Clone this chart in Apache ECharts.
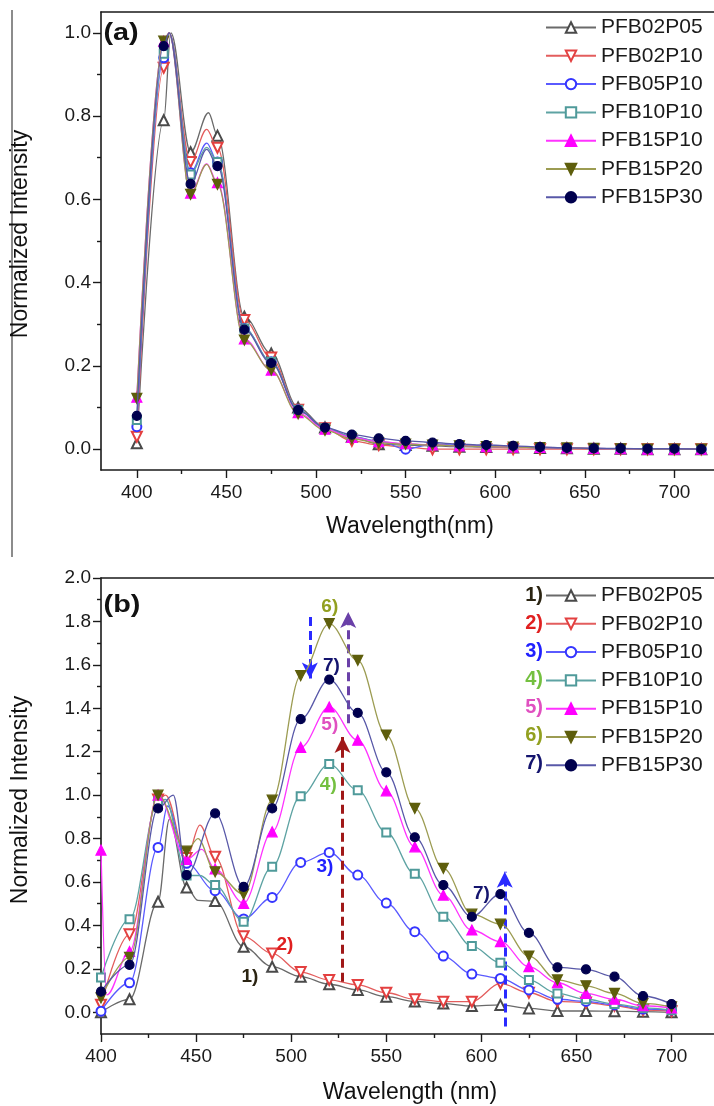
<!DOCTYPE html>
<html><head><meta charset="utf-8">
<script src="https://cdn.jsdelivr.net/npm/echarts@6/dist/echarts.min.js"></script>
<style>html,body{margin:0;padding:0;background:#fff}#c{width:714px;height:1106px}</style>
</head><body><div id="c"></div>
<script>
// ---------------- data ----------------
const seriesNames = ['PFB02P05','PFB02P10','PFB05P10','PFB10P10','PFB15P10','PFB15P20','PFB15P30'];
const legendPrefixB = ['1)','2)','3)','4)','5)','6)','7)'];

// Panel (a): marker wavelengths (nm)
const wlA = [400,415,430,445,460,475,490,505,520,535,550,565,580,595,610,625,640,655,670,685,700,715];
const a_PFB02P05 = [0.014,0.79,0.713,0.753,0.318,0.23,0.10,0.052,0.03,0.012,0.01,0.008,0.006,0.005,0.004,0.003,0.002,0.001,0.001,0,0,0];
const a_PFB02P10 = [0.03,0.916,0.69,0.724,0.31,0.22,0.095,0.05,0.02,0.01,0.005,0,0,0,0,0,0,0,0,0,0,0];
const a_PFB05P10 = [0.054,0.94,0.664,0.69,0.29,0.21,0.095,0.05,0.03,0.02,0.0,0.012,0.01,0.008,0.006,0.004,0.003,0.002,0.001,0,0,0];
const a_PFB10P10 = [0.07,0.95,0.66,0.69,0.29,0.21,0.095,0.05,0.03,0.018,0.012,0.01,0.008,0.006,0.005,0.004,0.003,0.002,0.001,0,0,0];
const a_PFB15P10 = [0.125,0.98,0.615,0.64,0.265,0.19,0.088,0.048,0.028,0.018,0.013,0.01,0.008,0.006,0.005,0.004,0.003,0.002,0.001,0,0,0];
const a_PFB15P20 = [0.122,0.98,0.612,0.636,0.262,0.19,0.085,0.045,0.025,0.015,0.012,0.01,0.008,0.006,0.005,0.004,0.003,0.002,0.001,0,0,0];
const a_PFB15P30 = [0.08,0.968,0.637,0.68,0.287,0.207,0.094,0.052,0.035,0.026,0.02,0.016,0.012,0.01,0.008,0.005,0.003,0.002,0.002,0.001,0.001,0];
// Panel (a): read peak points between markers [nm, value]
const aPk_PFB02P05 = [[419,1.0],[440,0.808]];
const aPk_PFB02P10 = [[418,1.0],[439,0.768]];
const aPk_PFB05P10 = [[418,1.0],[439,0.735]];
const aPk_PFB10P10 = [[418,1.0],[439,0.725]];
const aPk_PFB15P10 = [[418,1.0],[439,0.685]];
const aPk_PFB15P20 = [[418,1.0],[439,0.684]];
const aPk_PFB15P30 = [[418,1.0],[439,0.72]];

// Panel (b): marker wavelengths (nm)
const wlB = [400,415,430,445,460,475,490,505,520,535,550,565,580,595,610,625,640,655,670,685,700];
const b_PFB02P05 = [0.0,0.06,0.509,0.575,0.512,0.302,0.21,0.164,0.129,0.103,0.072,0.05,0.04,0.029,0.034,0.018,0.006,0.006,0.005,0.003,0.0];
const b_PFB02P10 = [0.035,0.359,0.98,0.71,0.716,0.35,0.271,0.185,0.149,0.126,0.09,0.06,0.049,0.049,0.133,0.09,0.05,0.045,0.03,0.01,0.005];
const b_PFB05P10 = [0.005,0.136,0.759,0.686,0.56,0.43,0.529,0.69,0.736,0.632,0.503,0.371,0.259,0.176,0.156,0.103,0.06,0.05,0.034,0.015,0.01];
const b_PFB10P10 = [0.16,0.429,0.97,0.63,0.586,0.417,0.67,0.995,1.143,1.023,0.828,0.638,0.44,0.305,0.228,0.149,0.087,0.06,0.038,0.02,0.01];
const b_PFB15P10 = [0.747,0.28,1.0,0.704,0.66,0.502,0.831,1.22,1.406,1.253,1.02,0.762,0.54,0.379,0.325,0.21,0.136,0.087,0.06,0.03,0.02];
const b_PFB15P20 = [0.066,0.253,1.0,0.742,0.647,0.544,0.977,1.55,1.79,1.621,1.277,0.939,0.663,0.452,0.406,0.259,0.149,0.122,0.087,0.041,0.025];
const b_PFB15P30 = [0.095,0.218,0.939,0.632,0.916,0.578,0.939,1.35,1.532,1.379,1.105,0.806,0.586,0.44,0.544,0.366,0.207,0.198,0.164,0.075,0.038];
// Panel (b): read points between markers [nm, value]
const bPk_PFB02P05 = [[436,0.89],[451,0.515]];
const bPk_PFB02P10 = [[434,1.0],[452,0.862]];
const bPk_PFB05P10 = [[435,0.95]];
const bPk_PFB10P10 = [[434,0.98],[452,0.63]];
const bPk_PFB15P10 = [[403,0.08],[453,0.75]];
const bPk_PFB15P20 = [[451,0.80]];
const bPk_PFB15P30 = [[438,1.0]];

// tick labels
const xTicks = [400,450,500,550,600,650,700];
const xMinorTicks = [425,475,525,575,625,675];
const yTicksA = [0,0.2,0.4,0.6,0.8,1.0];
const yMinorA = [0.1,0.3,0.5,0.7,0.9];
const yTicksB = [0,0.2,0.4,0.6,0.8,1.0,1.2,1.4,1.6,1.8,2.0];
const yMinorB = [0.1,0.3,0.5,0.7,0.9,1.1,1.3,1.5,1.7,1.9];

const valsA = [a_PFB02P05,a_PFB02P10,a_PFB05P10,a_PFB10P10,a_PFB15P10,a_PFB15P20,a_PFB15P30];
const pkA = [aPk_PFB02P05,aPk_PFB02P10,aPk_PFB05P10,aPk_PFB10P10,aPk_PFB15P10,aPk_PFB15P20,aPk_PFB15P30];
const valsB = [b_PFB02P05,b_PFB02P10,b_PFB05P10,b_PFB10P10,b_PFB15P10,b_PFB15P20,b_PFB15P30];
const pkB = [bPk_PFB02P05,bPk_PFB02P10,bPk_PFB05P10,bPk_PFB10P10,bPk_PFB15P10,bPk_PFB15P20,bPk_PFB15P30];

// ---------------- styles ----------------
const FONT = '"Liberation Sans", Arial, sans-serif';
const AX = '#1a1a1a';
const sty = [
  {line:'#6a6a6a', sym:'emptyTriangle', rot:0,   color:'#4a4a4a', size:10},
  {line:'#e35d5d', sym:'emptyTriangle', rot:180, color:'#e34040', size:10},
  {line:'#5a5aff', sym:'emptyCircle',   rot:0,   color:'#3535ff', size:9},
  {line:'#5ea3a3', sym:'emptyRect',     rot:0,   color:'#4f9a9a', size:8},
  {line:'#ff33ff', sym:'triangle',      rot:0,   color:'#ff00ff', size:10},
  {line:'#9c9c52', sym:'triangle',      rot:180, color:'#5e5e0c', size:10},
  {line:'#5858a8', sym:'circle',        rot:0,   color:'#00004e', size:9}
];
const prefixColors = ['#2b2412','#e02020','#2020ff','#74c040','#e050c0','#92a020','#14146e'];

function buildData(wl, vals, extra){
  const pts = wl.map((x,i)=>({value:[x, vals[i]]}));
  extra.forEach(p => pts.push({value:[p[0],p[1]], symbol:'none'}));
  pts.sort((a,b)=>a.value[0]-b.value[0]);
  return pts;
}

function axesFor(grid, xmin, xmax, ymin, ymax, yMajor, yMinor){
  const lab = {fontSize:19, color:AX, fontFamily:FONT};
  const xs = [
    {type:'value', gridIndex:grid, min:xmin, max:xmax, position:'bottom',
     axisLine:{show:true,onZero:false,lineStyle:{color:AX,width:1.6}},
     axisTick:{show:true,inside:false,length:8,customValues:xTicks,lineStyle:{color:AX,width:1.4}},
     axisLabel:Object.assign({show:true,customValues:xTicks,margin:13},lab),
     splitLine:{show:false}, minorTick:{show:false}},
    {type:'value', gridIndex:grid, min:xmin, max:xmax, position:'bottom',
     axisLine:{show:false,onZero:false},
     axisTick:{show:true,inside:false,length:4,customValues:xMinorTicks,lineStyle:{color:AX,width:1.4}},
     axisLabel:{show:false}, splitLine:{show:false}},
    {type:'value', gridIndex:grid, min:xmin, max:xmax, position:'top',
     axisLine:{show:true,onZero:false,lineStyle:{color:AX,width:1.6}},
     axisTick:{show:false}, axisLabel:{show:false}, splitLine:{show:false}}
  ];
  const ys = [
    {type:'value', gridIndex:grid, min:ymin, max:ymax, position:'left',
     axisLine:{show:true,onZero:false,lineStyle:{color:AX,width:1.6}},
     axisTick:{show:true,inside:false,length:8,customValues:yMajor,lineStyle:{color:AX,width:1.4}},
     axisLabel:Object.assign({show:true,customValues:yMajor,margin:10,formatter:v=>Number(v).toFixed(1)},lab),
     splitLine:{show:false}},
    {type:'value', gridIndex:grid, min:ymin, max:ymax, position:'left',
     axisLine:{show:false,onZero:false},
     axisTick:{show:true,inside:false,length:4,customValues:yMinor,lineStyle:{color:AX,width:1.4}},
     axisLabel:{show:false}, splitLine:{show:false}}
  ];
  return {xs, ys};
}

const axA = axesFor(0, 380, 726, -0.05, 1.05, yTicksA, yMinorA);
const axB = axesFor(1, 400, 726, -0.1, 2.0, yTicksB, yMinorB);

function mkSeries(i, wl, vals, extra, xi, yi){
  const s = sty[i];
  return {
    type:'line', name:seriesNames[i], xAxisIndex:xi, yAxisIndex:yi,
    data: buildData(wl, vals, extra),
    smooth:0.35, smoothMonotone:'x',
    symbol:s.sym, symbolSize:s.size, symbolRotate:s.rot, showSymbol:true,
    lineStyle:{color:s.line, width:1.3},
    itemStyle:{color:s.color, borderColor:s.color, borderWidth:1.2},
    emphasis:{disabled:true}, animation:false, z: 2 + i
  };
}

const series = [];
for (let i=0;i<7;i++) series.push(mkSeries(i, wlA, valsA[i], pkA[i], 0, 0));
for (let i=0;i<7;i++) series.push(mkSeries(i, wlB, valsB[i], pkB[i], 3, 2));

// annotations of panel (b)
const arrowsB = [
  {x:509.8, from:1.82,  to:1.537, color:'#2a2aff'},
  {x:530,   from:1.331, to:1.843, color:'#6a40a8'},
  {x:527,   from:0.141, to:1.268, color:'#a01818'},
  {x:612.3, from:-0.066,to:0.647, color:'#2a2aff'}
];
const labelsB = [
  {t:'1)', x:478.3, y:0.164, c:prefixColors[0]},
  {t:'2)', x:496.7, y:0.31,  c:prefixColors[1]},
  {t:'3)', x:517.7, y:0.67,  c:prefixColors[2]},
  {t:'4)', x:519.5, y:1.046, c:prefixColors[3]},
  {t:'5)', x:520.3, y:1.322, c:prefixColors[4]},
  {t:'6)', x:520.3, y:1.867, c:prefixColors[5]},
  {t:'7)', x:521.2, y:1.598, c:prefixColors[6]},
  {t:'7)', x:600,   y:0.548, c:prefixColors[6]}
];
series.push({
  type:'line', name:'_ann', xAxisIndex:3, yAxisIndex:2, data:[], silent:true, animation:false, z:20,
  markLine:{
    silent:true, animation:false, symbol:['none','arrow'], symbolSize:[12,16], label:{show:false},
    emphasis:{disabled:true},
    data: arrowsB.map(a => [
      {coord:[a.x,a.from], lineStyle:{color:a.color,width:3,type:[9,5]}},
      {coord:[a.x,a.to]}
    ])
  },
  markPoint:{
    silent:true, animation:false, symbol:'circle', symbolSize:1, itemStyle:{color:'rgba(0,0,0,0)'},
    data: labelsB.map(l => ({coord:[l.x,l.y], label:{show:true, position:'inside', formatter:l.t, color:l.c, fontSize:19, fontWeight:'bold', fontFamily:FONT}}))
  }
});

const legendCommon = {
  data: seriesNames, orient:'vertical', left:545, itemWidth:50, itemHeight:13, itemGap:7.3,
  selectedMode:false, padding:0,
  textStyle:{fontSize:21, color:'#1a1a1a', fontFamily:FONT, lineHeight:21}
};

function txt(text, size, weight, fill, align){
  return {text, fontSize:size, fontWeight:weight, fontFamily:FONT, fill, align:align||'center', verticalAlign:'middle'};
}
const graphics = [
  {type:'line', shape:{x1:12,y1:10,x2:12,y2:557}, style:{stroke:'#666',lineWidth:1.5}},
  {type:'text', x:121, y:33, scaleX:1.2, style:txt('(a)', 24, 'bold', '#111')},
  {type:'text', x:122, y:605, scaleX:1.2, style:txt('(b)', 24, 'bold', '#111')},
  {type:'text', x:21, y:234, rotation:Math.PI/2, style:txt('Normalized Intensity', 23, 'normal', '#111')},
  {type:'text', x:21, y:800, rotation:Math.PI/2, style:txt('Normalized Intensity', 23, 'normal', '#111')},
  {type:'text', x:410, y:527, style:txt('Wavelength(nm)', 23, 'normal', '#111')},
  {type:'text', x:410, y:1093, style:txt('Wavelength (nm)', 23, 'normal', '#111')}
];
legendPrefixB.forEach((p,i)=>{
  graphics.push({type:'text', x:543, y:595 + i*28.1, style:txt(p, 20, 'bold', prefixColors[i], 'right')});
});

const option = {
  animation:false,
  backgroundColor:'#fff',
  grid:[
    {left:101, top:12, width:620, height:458, containLabel:false, outerBoundsMode:'none'},
    {left:101, top:578, width:620, height:456, containLabel:false, outerBoundsMode:'none'}
  ],
  xAxis:[...axA.xs, ...axB.xs],
  yAxis:[...axA.ys, ...axB.ys],
  legend:[
    Object.assign({top:17}, legendCommon),
    Object.assign({top:585}, legendCommon)
  ],
  tooltip:{show:false},
  series,
  graphic: graphics
};

const chart = echarts.init(document.getElementById('c'), null, {renderer:'canvas'});
chart.setOption(option);
</script>
</body></html>
